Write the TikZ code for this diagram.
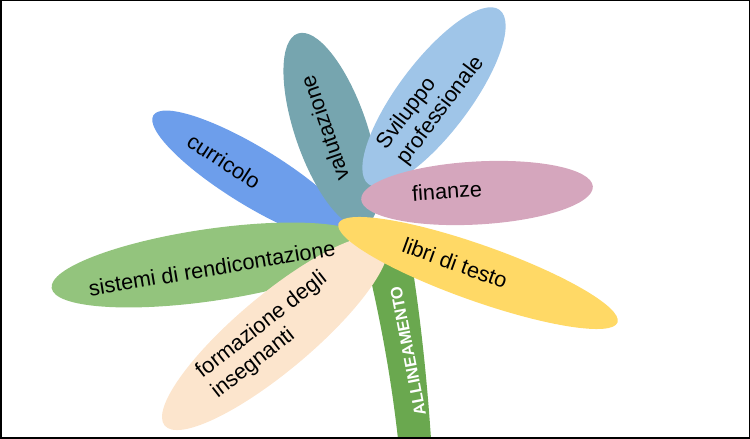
\documentclass[tikz,border=0pt]{standalone}
\usepackage{fontspec}
\setmainfont{Liberation Sans}
\usetikzlibrary{shapes.geometric}
\definecolor{stemgreen}{HTML}{6AA84F}
\definecolor{curricoloblue}{HTML}{6D9EEB}
\definecolor{valutazioneteal}{HTML}{76A5AF}
\definecolor{svilupposky}{HTML}{9FC5E8}
\definecolor{finanzepink}{HTML}{D5A6BD}
\definecolor{sistemigreen}{HTML}{93C47D}
\definecolor{formazionepeach}{HTML}{FCE5CD}
\definecolor{libriyellow}{HTML}{FFD966}
\begin{document}
\begin{tikzpicture}[x=1pt,y=1pt,
    petal/.style={ellipse, draw=none, inner sep=0pt, outer sep=0pt},
    word/.style={font=\fontsize{21.7}{25}\selectfont, align=left, inner sep=0pt}]
    \useasboundingbox (0,0) rectangle (750,439);
    % stem
    \fill[stemgreen] (360,204) .. controls (370,165) and (388,90) .. (398,0)
        -- (431,0) .. controls (425,90) and (415,160) .. (407,204) -- cycle;
    % petals
    \node[petal, fill=curricoloblue, minimum width=236pt, minimum height=58pt, rotate=-31.5] (curricolo) at (254,262) {};
    \node[petal, fill=valutazioneteal, minimum width=204pt, minimum height=72pt, rotate=109] (valutazione) at (331,309) {};
    \node[petal, fill=svilupposky, minimum width=218pt, minimum height=72pt, rotate=53] (sviluppo) at (434,342) {};
    \node[petal, fill=finanzepink, minimum width=232pt, minimum height=63pt, rotate=3.2] (finanze) at (477,246) {};
    \node[petal, fill=sistemigreen, minimum width=320pt, minimum height=72pt, rotate=8.3] (sistemi) at (210,174) {};
    \node[petal, fill=formazionepeach, minimum width=288pt, minimum height=76pt, rotate=40] (formazione) at (275,106) {};
    \node[petal, fill=libriyellow, minimum width=296pt, minimum height=56pt, rotate=-19.5] (libri) at (478,166) {};
    % labels
    \node[word, text=white, font=\bfseries\fontsize{16.5}{20}\selectfont, rotate=101] (allineamento) at (408,88) {ALLINEAMENTO};
    \node[word, rotate=-33] (curricolo-lbl) at (224,278) {curricolo};
    \node[word, rotate=109] (valutazione-lbl) at (324.5,310.5) {valutazione};
    \node[word, rotate=53] (sviluppo-lbl) at (431,336) {Sviluppo\\professionale};
    \node[word, rotate=4] (finanze-lbl) at (447,248) {finanze};
    \node[word, rotate=9.5] (sistemi-lbl) at (212,171) {sistemi di rendicontazione};
    \node[word, rotate=38] (formazione-lbl) at (269.4,103.6) {formazione degli\\insegnanti};
    \node[word, rotate=-20] (libri-lbl) at (455,176) {libri di testo};
    % frame
    \draw[line width=1.5pt] (0.75,0.75) rectangle (749.25,438.25);
\end{tikzpicture}
\end{document}
